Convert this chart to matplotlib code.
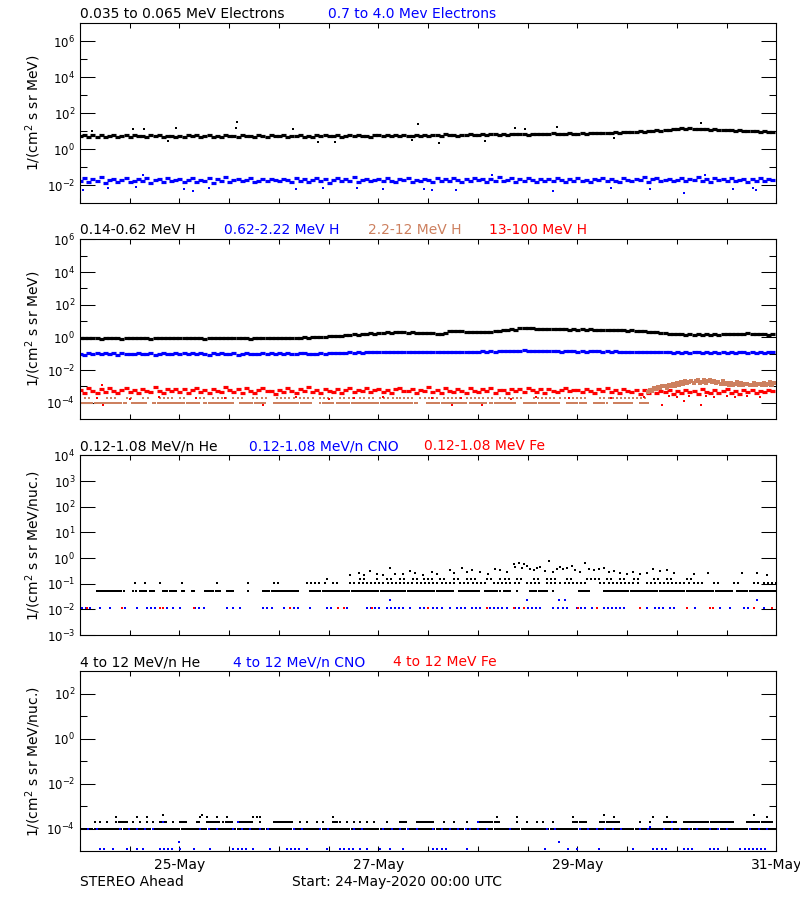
import numpy as np
import matplotlib
matplotlib.use("Agg")
import matplotlib.pyplot as plt
from matplotlib.ticker import FixedLocator, NullFormatter, FuncFormatter

# time axis: hours since 24-May-2020 00:00 UTC
hours = np.arange(168)
x_ticks = np.arange(0, 169, 12)
date_labels = {24: "25-May", 72: "27-May", 120: "29-May", 168: "31-May"}

# ---------------- panel 1: electrons, hourly ----------------
e_low = [
    5.2, 6.1, 4.6, 5.8, 5.0, 6.4, 4.9, 5.5, 6.0, 4.7, 5.3, 5.9, 4.8, 6.2, 5.1, 5.6, 4.5, 5.8, 5.2, 6.3, 4.9, 5.4, 5.7, 5.0,
    5.6, 4.8, 6.0, 5.2, 5.9, 4.6, 5.5, 6.2, 5.0, 5.4, 4.7, 6.1, 5.3, 5.7, 4.9, 6.0, 5.2, 5.5, 4.8, 5.9, 5.6, 5.0, 6.3, 5.1,
    5.4, 6.0, 4.9, 5.7, 5.2, 6.2, 5.0, 5.5, 4.8, 6.1, 5.3, 5.8, 5.1, 5.6, 6.3, 4.9, 5.5, 5.9, 5.2, 6.0, 5.4, 5.7, 5.0, 6.2,
    5.8, 5.2, 6.4, 5.5, 6.0, 5.1, 6.2, 5.7, 5.3, 6.5, 5.6, 6.1, 5.4, 6.3, 5.8, 5.5, 6.6, 5.9, 6.2, 5.7, 6.4, 6.0, 6.7, 6.1,
    6.3, 6.8, 6.0, 6.6, 7.1, 6.4, 6.9, 6.2, 7.0, 6.6, 7.3, 6.8, 6.5, 7.2, 6.9, 7.4, 7.0, 6.7, 7.5, 7.1, 7.3, 6.9, 7.6, 7.2,
    7.0, 7.6, 7.3, 7.9, 7.5, 8.1, 7.7, 8.4, 8.0, 8.7, 8.3, 9.0, 8.6, 9.4, 9.1, 9.8, 9.5, 10.4, 10.1, 11.0, 10.8, 11.8, 11.5, 12.6,
    13.2, 14.5, 13.6, 14.9, 13.9, 13.5, 12.8, 13.2, 12.2, 12.6, 11.8, 12.1, 11.3, 11.7, 10.9, 11.2, 10.4, 10.8, 9.9, 10.2, 9.5, 9.8, 9.1, 9.4,
]
e_high = [
    .018, .024, .014, .021, .016, .027, .013, .019, .023, .015, .020, .026, .014, .018, .022, .016, .025, .013, .019, .021, .015, .024, .017, .020,
    .022, .015, .019, .026, .014, .020, .017, .024, .013, .021, .018, .027, .015, .019, .023, .016, .020, .025, .014, .018, .022, .016, .021, .019,
    .016, .023, .019, .014, .025, .018, .021, .015, .020, .026, .017, .022, .013, .019, .024, .016, .021, .018, .027, .015, .020, .023, .017, .019,
    .021, .016, .024, .018, .014, .022, .019, .026, .015, .020, .017, .023, .019, .014, .025, .018, .021, .016, .024, .020, .015, .022, .018, .026,
    .019, .023, .015, .021, .018, .027, .016, .020, .024, .014, .022, .017, .025, .019, .015, .021, .018, .023, .016, .026, .020, .014, .022, .018,
    .024, .017, .020, .015, .023, .019, .026, .016, .021, .018, .014, .025, .020, .017, .022, .019, .027, .015, .021, .024, .016, .019, .023, .018,
    .020, .025, .016, .022, .019, .028, .017, .021, .015, .024, .019, .022, .016, .026, .018, .020, .023, .015, .021, .018, .025, .017, .022, .019,
]
e_low_out_t = [2.9, 12.8, 15.5, 21.2, 23.2, 37.7, 37.9, 51.4, 57.5, 61.6, 80.0, 81.6, 86.7, 97.8, 105.0, 107.4, 115.0, 128.7, 149.7]
e_low_out_v = [10, 14, 13, 2.8, 15, 16, 33, 13, 2.5, 2.6, 3.3, 25, 2.2, 2.9, 15, 12.6, 17, 4.2, 28]
e_high_out_t = [0.7, 6.7, 13.5, 15.2, 25, 27.3, 31, 52, 58.7, 66.7, 73, 83, 85, 90.6, 99.5, 114, 128, 137.4, 145.6, 150.7, 157.4, 162.3, 163]
e_high_out_v = [.005, .0065, .008, .037, .006, .0048, .007, .006, .0065, .0065, .0058, .006, .005, .0052, .037,
                .0048, .0065, .0058, .0034, .037, .006, .0065, .0052]

# ---------------- panel 2: protons ----------------
h_a = [
    .92, .86, .95, .88, .90, .84, .93, .89, .87, .94, .85, .91, .88, .96, .86, .90, .93, .85, .89, .92, .87, .94, .88, .91,
    .89, .93, .86, .91, .88, .95, .85, .90, .92, .87, .94, .89, .86, .91, .88, .93, .90, .85, .92, .89, .94, .87, .91, .88,
    .93, .88, .95, .90, .98, .93, 1.02, .97, 1.06, 1.01, 1.12, 1.05, 1.18, 1.14, 1.27, 1.22, 1.38, 1.33, 1.52, 1.45, 1.66, 1.58, 1.80, 1.72,
    1.92, 1.85, 2.06, 1.98, 2.15, 2.05, 2.12, 1.98, 2.04, 1.90, 1.98, 1.86, 1.92, 1.80, 1.70, 1.58, 1.78, 2.35, 2.55, 2.38, 2.42, 2.22, 2.28, 2.10,
    2.15, 2.08, 2.30, 2.25, 2.60, 2.52, 2.88, 2.76, 3.15, 3.05, 3.65, 3.88, 3.62, 3.70, 3.38, 3.50, 3.22, 3.36, 3.18, 3.30, 3.12, 3.24, 3.02, 3.15,
    2.98, 3.10, 2.92, 3.06, 2.88, 3.00, 2.82, 2.94, 2.76, 2.86, 2.70, 2.80, 2.62, 2.72, 2.55, 2.60, 2.40, 2.30, 2.15, 2.05, 1.92, 1.85, 1.72, 1.66,
    1.58, 1.52, 1.46, 1.54, 1.45, 1.52, 1.47, 1.55, 1.48, 1.54, 1.50, 1.58, 1.56, 1.64, 1.62, 1.72, 1.68, 1.78, 1.70, 1.66, 1.60, 1.56, 1.48, 1.52,
]
h_b = [
    .100, .088, .112, .095, .106, .090, .115, .098, .104, .086, .110, .096, .102, .092, .117, .099, .094, .108, .089, .103, .113, .097, .091, .105,
    .098, .110, .090, .104, .095, .114, .100, .087, .107, .096, .112, .093, .101, .108, .089, .099, .116, .094, .103, .091, .109, .097, .105, .092,
    .106, .095, .111, .098, .090, .104, .113, .097, .102, .094, .109, .100, .106, .112, .104, .118, .110, .121, .114, .125, .118, .128, .122, .130,
    .124, .134, .127, .131, .122, .136, .128, .125, .133, .120, .130, .127, .135, .123, .132, .126, .129, .137, .124, .131, .128, .134, .126, .132,
    .129, .138, .131, .142, .135, .146, .140, .152, .145, .158, .150, .162, .148, .155, .144, .151, .140, .147, .138, .144, .136, .142, .139, .145,
    .137, .143, .134, .141, .138, .146, .135, .140, .133, .139, .131, .137, .134, .129, .136, .128, .132, .125, .130, .123, .127, .121, .126, .119,
    .124, .118, .123, .116, .121, .125, .117, .122, .119, .124, .115, .121, .118, .126, .117, .120, .123, .116, .122, .119, .124, .118, .121, .120,
]
# 13-100 MeV H, in units of 1e-4
h_d = [
    5.8, 4.2, 7.6, 5.1, 3.8, 6.9, 4.7, 8.4, 5.5, 4.0, 6.3, 7.9, 4.4, 5.9, 3.7, 7.2, 5.2, 4.6, 8.8, 5.6, 4.1, 6.6, 5.0, 7.4,
    4.8, 6.8, 4.0, 5.7, 8.1, 4.5, 6.1, 3.9, 7.0, 5.3, 4.3, 8.6, 5.9, 4.7, 6.5, 3.8, 7.7, 5.4, 4.2, 6.2, 8.3, 4.9, 5.6, 3.6,
    6.4, 4.6, 7.8, 5.2, 4.0, 6.7, 5.5, 8.9, 4.4, 6.0, 3.9, 7.3, 5.1, 4.8, 6.9, 4.1, 5.8, 8.0, 4.5, 6.3, 5.0, 7.5, 4.3, 5.7,
    7.1, 4.4, 5.9, 3.8, 6.6, 8.2, 4.9, 5.4, 7.0, 4.2, 6.1, 5.3, 8.7, 4.6, 6.4, 3.9, 7.6, 5.6, 4.7, 6.8, 5.1, 4.0, 7.9, 5.5,
    4.5, 6.9, 5.2, 8.3, 4.1, 6.0, 5.7, 3.8, 7.4, 5.0, 6.5, 4.4, 8.0, 5.8, 4.8, 6.7, 3.9, 7.1, 5.3, 4.6, 6.2, 8.5, 4.9, 5.9,
    6.3, 4.3, 7.3, 5.4, 3.7, 6.8, 5.1, 8.1, 4.7, 5.9, 4.0, 7.0, 5.5, 4.5, 6.4, 3.6, 5.8, 4.2, 6.6, 3.9, 5.2, 4.6, 6.1, 3.5,
    5.0, 3.8, 6.2, 4.4, 5.6, 3.4, 6.8, 4.8, 4.1, 5.9, 3.7, 5.3, 6.5, 4.2, 5.0, 3.6, 5.7, 4.5, 6.0, 3.9, 5.4, 4.7, 6.3, 5.1,
]
h_d_out_t = [4, 5.6, 12, 19, 28, 35, 44.2, 52, 60, 66, 73, 85, 89.7, 92, 97, 104, 110, 118, 128, 136,
             140.4, 142, 144, 145.6, 147, 149.7, 151, 153, 156, 158, 161, 164, 5.2, 166]
h_d_out_v = [2e-4, 7e-5, 1.8e-4, 2.2e-4, 1.9e-4, 2e-4, 7.5e-5, 2.1e-4, 1.8e-4, 2e-4, 2.2e-4, 1.9e-4, 7e-5, 2e-4,
             7e-5, 1.8e-4, 2.1e-4, 1.9e-4, 2e-4, 2.2e-4, 7e-5, 2.5e-4, 2.4e-4, 1.3e-4, 2.6e-4, 7e-5, 2.5e-4,
             2.3e-4, 2.6e-4, 2.4e-4, 2.5e-4, 2.3e-4, 1.3e-3, 1.2e-3]
# 2.2-12 MeV H: count-limited levels before the rise, then half-hourly values (units 1e-3) from hour 137
h_c_low_level = 9.5e-5
h_c_low_spans = [(0, 11), (12.5, 16), (17.7, 29), (30, 37), (38.6, 45), (46.7, 56), (58, 61), (62, 77), (77.2, 81.5),
                 (83.7, 93.3), (94, 98), (99, 105.4), (107, 108), (108.6, 115.9), (117.5, 122.3), (124, 127),
                 (128.7, 133.6), (135, 137)]
h_c_mid_level = 2e-4
h_c_mid_spans = [(1.2, 2.8), (4, 4.8), (6.4, 8.8), (11.3, 12.5), (15.3, 16.9), (19.3, 22.5), (24.1, 25.7), (29, 30.6),
                 (32.2, 35.4), (37, 39.4), (41.8, 45), (47.5, 51.5), (53.1, 56.3), (57.9, 61.1), (62.8, 66),
                 (67.6, 70.8), (72.4, 77.2), (77.2, 80.4), (82.1, 86.9), (87.7, 91.7), (93.3, 99.8), (101.4, 107),
                 (109.4, 115), (115.9, 122.3), (125.5, 133.6), (134.4, 137)]
h_c_event_start = 137
h_c_event = [
    .45, .6, .55, .75, .7, .9, .8, 1.0, 1.0, .85, 1.2, 1.0, 1.4, 1.1, 1.6, 1.3, 1.9, 1.5, 2.1, 1.6, 1.8, 2.2,
    1.6, 2.0, 2.3, 1.7, 1.9, 2.4, 1.6, 2.1, 2.6, 1.8, 2.2, 1.6, 1.9, 1.5, 2.0, 1.4, 1.7, 1.3, 1.6, 1.2,
    1.5, 1.9, 1.3, 1.6, 1.2, 1.5, 1.4, 1.2, 1.3, 1.6, 1.2, 1.5, 1.4, 1.2, 1.7, 1.3, 1.5, 1.9, 1.3, 1.6,
]

# ---------------- panel 3: 0.12-1.08 MeV/n ions ----------------
he_lvl = [0.053, 0.108, 0.16]
he_row_spans = [
    [(4, 10.9), (12.9, 13.7), (14.5, 16.1), (16.9, 18.1), (20.1, 23.3), (24.5, 25.3), (27, 27.8), (30.2, 33.8),
     (35.4, 37), (40.6, 41), (44.2, 53.1), (55.5, 90.1), (91.3, 96.5), (97.7, 101.4), (102.2, 103.8),
     (105.4, 105.4), (108.6, 112.6), (114.2, 114.2), (120.3, 123.1), (126.3, 157.7), (158.5, 168)],
    [(13.3, 13.3), (15.7, 15.7), (19.3, 19.3), (24.5, 24.5), (33, 33), (40.6, 40.6), (46.7, 48.3), (54.7, 57.9),
     (59.1, 59.1), (61.1, 62.8), (65.2, 68.4), (69.2, 90.9), (91.7, 98.2), (99.8, 103.8), (105, 106.3),
     (107.8, 111), (112.6, 115), (115.9, 122.3), (125.5, 135.2), (136.8, 147.2), (148, 150.4), (152.9, 154.5),
     (157.7, 159.3), (162.5, 164.1), (165, 168)],
    [(59.5, 59.5), (67.6, 69.2), (71.6, 72.4), (74, 75.6), (77.2, 78.8), (80.4, 82.1), (82.9, 85.3), (86.9, 88.5),
     (90.1, 91.7), (93.3, 95.7), (98.2, 99.8), (101.4, 103.8), (105.4, 107), (109.4, 111), (112.6, 115),
     (117.5, 119.1), (122.3, 125.5), (127.1, 128.7), (130.3, 131.9), (133.6, 135.2), (138.4, 140),
     (141.6, 143.2), (146.4, 148)],
]
he_cloud_t = [65.2, 67.2, 68.4, 70.0, 71.6, 73.2, 74.8, 76.0, 78.0, 79.6, 80.8, 82.8, 84.8, 86.0, 89.3, 90.1, 92.1,
              93.3, 94.5, 96.5, 98.5, 100.1, 101.3, 102.9, 104.6, 105.0, 105.8, 106.6, 107.0, 107.8, 108.6, 109.4,
              110.2, 111.0, 112.2, 113.2, 114.2, 115.0, 115.8, 116.6, 117.4, 118.6, 119.4, 120.6, 121.9, 122.7,
              123.9, 125.1, 126.3, 127.5, 128.7, 130.3, 131.9, 133.5, 135.1, 136.7, 138.3, 139.9, 141.6, 143.2,
              148.0, 151.6, 159.7, 163.3, 165.7]
he_cloud_v = [.21, .26, .22, .32, .24, .21, .40, .25, .25, .31, .27, .22, .29, .23, .34, .27, .42,
              .29, .34, .29, .25, .39, .34, .29, .57, .46, .62, .42, .58, .50, .39, .34,
              .42, .46, .31, .76, .29, .39, .46, .37, .42, .50, .34, .29, .62, .39,
              .34, .37, .42, .29, .31, .27, .25, .29, .23, .27, .39, .31, .34, .27,
              .23, .27, .27, .27, .22]
cno_lvl = 0.0114
cno_spans = [(0.4, 2.4), (4.8, 4.8), (7.2, 8), (10.9, 11.3), (13.7, 13.7), (16.1, 18.5), (20.9, 20.9), (22.5, 22.5),
             (24.1, 24.1), (27.8, 30.6), (35.4, 35.4), (37, 37), (38.6, 38.6), (44.2, 46.7), (49.1, 49.9),
             (51.5, 53.1), (55.5, 55.5), (59.5, 61.1), (64.4, 65.2), (69.2, 72.4), (74, 78.8), (79.6, 80.4),
             (82, 83.6), (85.2, 87.7), (89.3, 89.3), (90.9, 93.3), (94.5, 96.5), (98.9, 103.8), (105, 111.8),
             (114.2, 114.2), (115.4, 117.4), (119.8, 122.3), (123.5, 123.5), (126.3, 131.9), (136.7, 136.7),
             (138.7, 141.6), (142.4, 143.6), (148.4, 148.4), (154.4, 154.4), (156.9, 157.7), (160.1, 161.7),
             (164.9, 164.9)]
cno_mid_lvl = 0.023
cno_mid_t = [74.8, 107.9, 115.6, 116.9, 163.3]
fe_t = [1.6, 10.1, 19.3, 20.1, 27.4, 50.7, 62.3, 63.6, 70.4, 84.0, 98.1, 104.6, 107.0, 120.2, 124.7, 135.1,
        146.4, 152.0, 152.8, 162.5, 166.9]

# ---------------- panel 4: 4-12 MeV/n ions ----------------
he4_base_lvl = 1e-4
he4_base_spans = [(0, 168)]
he4_row2_lvl = 2e-4
he4_row2_spans = [(3.6, 3.6), (4.8, 4.8), (6.4, 6.4), (8.8, 11.3), (12.9, 12.9), (14.5, 14.5), (16.1, 16.1),
                  (17.7, 17.7), (19.3, 20.9), (22.5, 22.5), (24.1, 25.7), (28.2, 29), (30.6, 33.8), (34.6, 37),
                  (38.6, 41.8), (43.4, 43.4), (46.7, 51.5), (53.1, 53.1), (54.7, 54.7), (57.1, 57.1), (58.7, 58.7),
                  (61.1, 62.8), (64.4, 64.4), (66, 66), (67.6, 67.6), (69.2, 69.2), (70.8, 70.8), (74, 74),
                  (77.2, 78.8), (81.2, 85.2), (87.7, 87.7), (90.1, 90.1), (93.3, 93.3), (96.5, 101.3),
                  (105.4, 105.4), (107.8, 107.8), (110.2, 110.2), (111.8, 111.8), (114.2, 114.2), (119, 122.3),
                  (125.5, 130.3), (135.1, 135.1), (137.5, 137.5), (140.8, 144), (145.6, 157.7), (160.9, 167.3)]
he4_row3_t = [8.8, 13.7, 16.1, 29, 30.6, 33, 35.4, 41.8, 42.6, 43.4, 61.1, 100.5, 105.4, 119.0, 128.7, 138.3,
              141.6, 165.7]
he4_row3_v = [3.3e-4] * len(he4_row3_t)
he4_row4_t = [20.1, 29.4, 126.3, 162.5]
he4_row4_v = [4.2e-4] * len(he4_row4_t)
cno4_base_spans = [(0, 4), (9.7, 19.3), (29, 33), (37, 41.8), (43.4, 46.7), (51.5, 54.7), (57.9, 61.1), (66, 69.2),
                   (73.2, 82), (85.2, 93.3), (94.1, 98.1), (103.7, 105.4), (112.6, 115.8), (120.6, 131.9),
                   (135.1, 138.3), (140.8, 149.6), (152, 156), (161.7, 165.7)]
cno4_low_lvl = 1.2e-5
cno4_low_spans = [(0, 0.8), (4.8, 6.4), (8, 8), (11.3, 11.3), (13.7, 13.7), (15.3, 16.1), (19.3, 22.5), (24.1, 24.1),
                  (27.4, 27.4), (31.4, 31.4), (37, 40.2), (41.8, 41.8), (45.9, 45.9), (49.9, 53.1), (54.7, 54.7),
                  (59.5, 59.5), (62.8, 66), (67.6, 67.6), (69.2, 69.2), (72.4, 72.4), (74.8, 74.8), (78, 78),
                  (85.2, 88.5), (93.3, 93.3), (112.2, 112.2), (117.8, 117.8), (119.8, 119.8), (125.1, 125.1),
                  (133.5, 133.5), (138.3, 141.6), (145.6, 148), (152, 154.4), (159.3, 165.7)]
cno4_other_t = [20.1, 38.0, 95.9, 142.8, 137.6, 23.9, 115.6]
cno4_other_v = [2e-4, 2e-4, 2e-4, 2e-4, 1.2e-4, 2.5e-5, 2.5e-5]

titles = [
    [("0.035 to 0.065 MeV Electrons", "black"), ("0.7 to 4.0 Mev Electrons", "blue")],
    [("0.14-0.62 MeV H", "black"), ("0.62-2.22 MeV H", "blue"), ("2.2-12 MeV H", "#cd805f"),
     ("13-100 MeV H", "red")],
    [("0.12-1.08 MeV/n He", "black"), ("0.12-1.08 MeV/n CNO", "blue"), ("0.12-1.08 MeV Fe", "red")],
    [("4 to 12 MeV/n He", "black"), ("4 to 12 MeV/n CNO", "blue"), ("4 to 12 MeV Fe", "red")],
]
title_x = [[0.0, 0.356], [0.0, 0.2067, 0.4135, 0.5872], [0.0, 0.2426, 0.4939], [0.0, 0.2197, 0.4494]]
ylabels = ["1/(cm$^2$ s sr MeV)", "1/(cm$^2$ s sr MeV)",
           "1/(cm$^2$ s sr MeV/nuc.)", "1/(cm$^2$ s sr MeV/nuc.)"]
# (ylim exponents, labelled exponents, short-tick exponents)
yscales = [
    ((-3, 7), [-2, 0, 2, 4, 6], [-1, 1, 3, 5]),
    ((-5, 6), [-4, -2, 0, 2, 4, 6], [-3, -1, 1, 3, 5]),
    ((-3, 4), [-3, -2, -1, 0, 1, 2, 3, 4], []),
    ((-5, 3), [-4, -2, 0, 2], [-3, -1, 1]),
]
SIENNA = "#cd805f"

plt.rcParams["font.family"] = "DejaVu Sans"
plt.rcParams["mathtext.default"] = "regular"


def span_times(spans, step=0.5):
    return np.concatenate([np.arange(a, b + 1e-6, step) for a, b in spans])


def band(ax, t, v, color):
    # one short dash per hourly sample, wide enough to touch its neighbours
    ax.plot(t, v, ls="none", marker="_", ms=3.6, mew=2.3, color=color)


def dots(ax, t, v, color, ms=1.6):
    ax.plot(t, v, ls="none", marker="s", ms=ms, mew=0, color=color)


def level(ax, spans, lvl, color, step=0.5):
    t = span_times(spans, step)
    dots(ax, t, np.full(len(t), lvl), color)


fig = plt.figure(figsize=(8, 9), dpi=100)
bottoms = [0.7744, 0.5344, 0.2944, 0.0544]
axes = [fig.add_axes([0.1, b, 0.8706, 0.1995]) for b in bottoms]

# panel 1
ax = axes[0]
band(ax, hours, e_low, "black")
dots(ax, e_low_out_t, e_low_out_v, "black", 1.8)
band(ax, hours, e_high, "blue")
dots(ax, e_high_out_t, e_high_out_v, "blue", 1.8)

# panel 2
ax = axes[1]
band(ax, hours, h_a, "black")
band(ax, hours, h_b, "blue")
level(ax, h_c_low_spans, h_c_low_level, SIENNA)
level(ax, h_c_mid_spans, h_c_mid_level, SIENNA, step=1.0)
band(ax, hours, np.array(h_d) * 1e-4, "red")
dots(ax, h_d_out_t, h_d_out_v, "red", 1.8)
t_ev = h_c_event_start + 0.5 * np.arange(len(h_c_event))
dots(ax, t_ev, np.array(h_c_event) * 1e-3, SIENNA, 2.4)

# panel 3
ax = axes[2]
level(ax, he_row_spans[0], he_lvl[0], "black")
level(ax, he_row_spans[1], he_lvl[1], "black", step=1.0)
level(ax, he_row_spans[2], he_lvl[2], "black", step=1.0)
dots(ax, he_cloud_t, he_cloud_v, "black", 1.8)
level(ax, cno_spans, cno_lvl, "blue", step=1.0)
dots(ax, cno_mid_t, [cno_mid_lvl] * len(cno_mid_t), "blue", 1.8)
dots(ax, fe_t, [cno_lvl] * len(fe_t), "red", 1.8)

# panel 4
ax = axes[3]
level(ax, he4_base_spans, he4_base_lvl, "black")
level(ax, he4_row2_spans, he4_row2_lvl, "black")
dots(ax, he4_row3_t, he4_row3_v, "black", 1.8)
dots(ax, he4_row4_t, he4_row4_v, "black", 1.8)
level(ax, cno4_base_spans, he4_base_lvl, "blue", step=2.0)
level(ax, cno4_low_spans, cno4_low_lvl, "blue", step=1.0)
dots(ax, cno4_other_t, cno4_other_v, "blue", 1.8)

for i, ax in enumerate(axes):
    (lo, hi), labelled, short = yscales[i]
    ax.set_yscale("log")
    ax.set_ylim(10.0 ** lo, 10.0 ** hi)
    ax.set_xlim(0, 168)
    ax.yaxis.set_major_locator(FixedLocator([10.0 ** e for e in labelled]))
    ax.yaxis.set_major_formatter(FuncFormatter(lambda v, p: "$10^{%d}$" % round(np.log10(v))))
    ax.yaxis.set_minor_locator(FixedLocator([10.0 ** e for e in short]))
    ax.yaxis.set_minor_formatter(NullFormatter())
    ax.tick_params(axis="y", which="major", direction="in", left=True, right=True,
                   length=10.8, width=0.75, pad=3.5, labelsize=8.5)
    ax.tick_params(axis="y", which="minor", direction="in", left=True, right=True,
                   length=5.0, width=0.75)
    ax.xaxis.set_major_locator(FixedLocator(x_ticks))
    ax.xaxis.set_minor_locator(FixedLocator([]))
    ax.tick_params(axis="x", which="major", direction="in", top=True, bottom=True,
                   length=3.6, width=0.75, pad=5, labelsize=10)
    if i == 3:
        ax.xaxis.set_major_formatter(FuncFormatter(lambda h, p: date_labels.get(int(round(h)), "")))
    else:
        ax.xaxis.set_major_formatter(NullFormatter())
    for s in ax.spines.values():
        s.set_linewidth(0.8)
    ax.set_ylabel(ylabels[i], fontsize=10)
    ax.yaxis.set_label_coords(-0.053, 0.5)
    for (txt, col), xf in zip(titles[i], title_x[i]):
        ax.annotate(txt, xy=(xf, 1.0), xycoords="axes fraction", xytext=(0, 3.8),
                    textcoords="offset points", va="baseline", ha="left", color=col, fontsize=10)

fig.text(0.1, 0.0156, "STEREO Ahead", fontsize=10, va="baseline", ha="left")
fig.text(0.365, 0.0156, "Start: 24-May-2020 00:00 UTC", fontsize=10, va="baseline", ha="left")

fig.savefig("out.png", dpi=100, facecolor="white")
